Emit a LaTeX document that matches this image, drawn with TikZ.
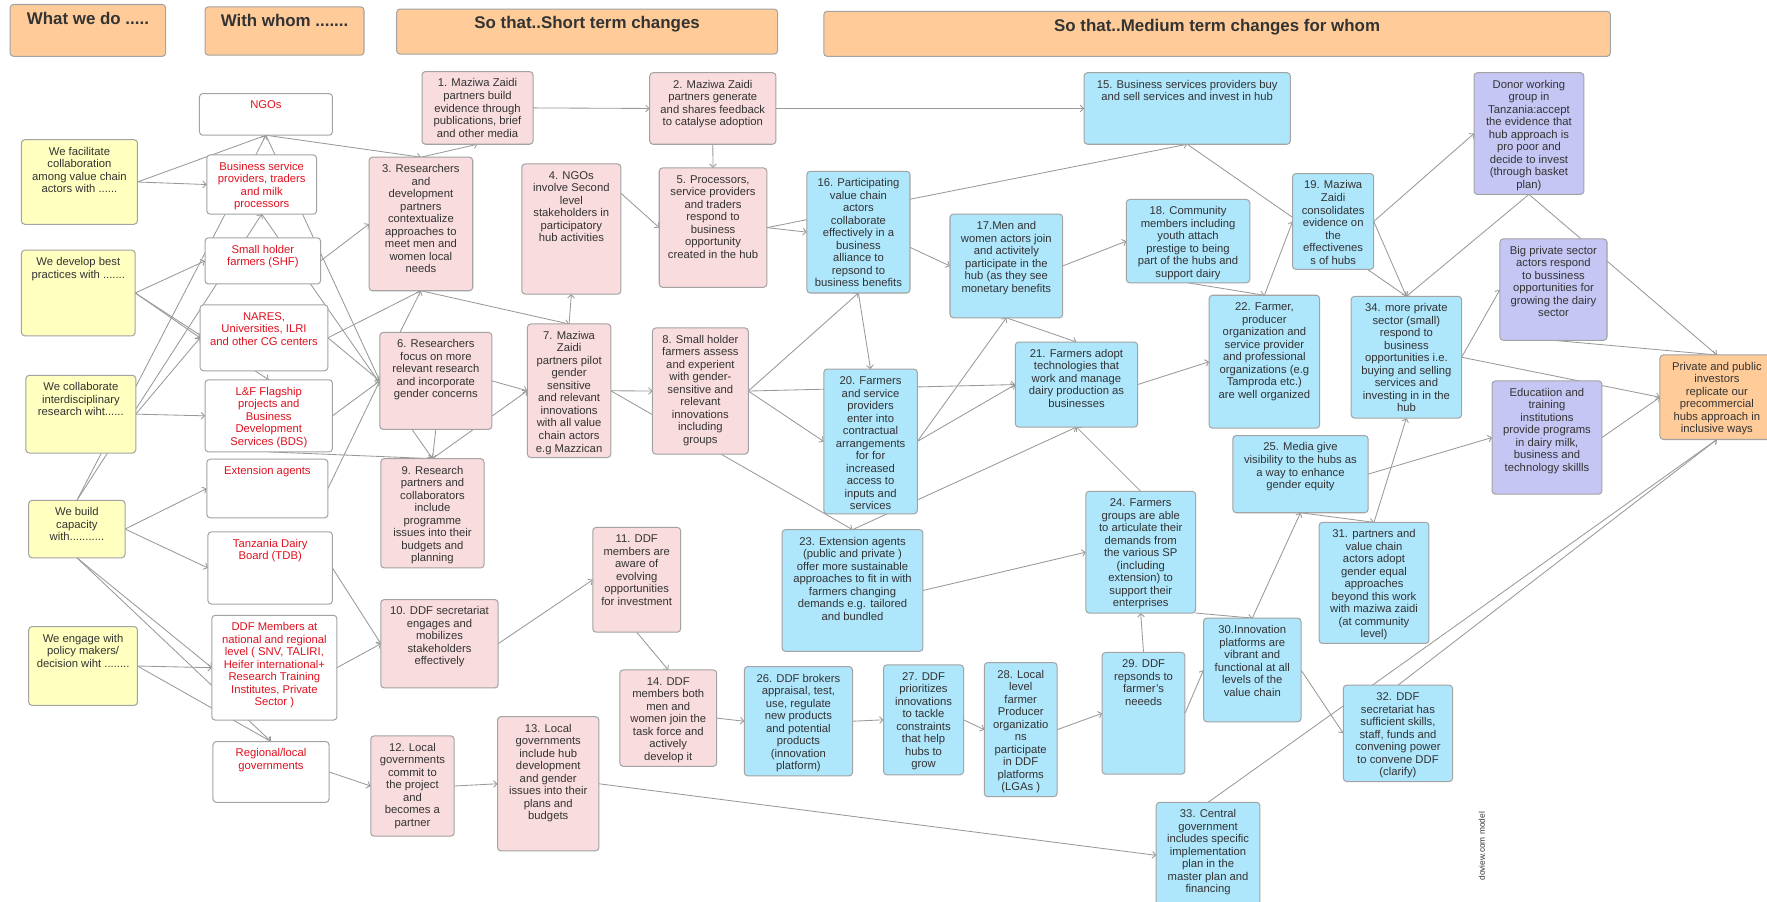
\documentclass[tikz,border=0pt]{standalone}
\usepackage{fontspec}
\setmainfont{Liberation Sans}
\usetikzlibrary{arrows.meta,calc}
\pgfdeclarelayer{bg}
\pgfsetlayers{bg,main}
\definecolor{hdr}{HTML}{FFCC99}
\definecolor{yel}{HTML}{FFFFC0}
\definecolor{pnk}{HTML}{F9DCDD}
\definecolor{blu}{HTML}{AEE6FC}
\definecolor{pur}{HTML}{C6C6F5}
\definecolor{bord}{HTML}{A3A3A3}
\definecolor{lnc}{HTML}{999999}
\definecolor{redt}{HTML}{E0101E}
\definecolor{dkt}{HTML}{333333}
\newcommand\bx[8]{%
  \node[box,#2,minimum width={(#6-#4)*1pt},minimum height={(#7-#5)*1pt}] (#1) at ({(#4+#6)/2},{(#5+#7)/2}) {};
  \node[txt,#3,anchor=north] at (#1.north) {\rule{0pt}{13.5pt}#8};
}
\begin{document}
\begin{tikzpicture}[x=1pt,y=-1pt,
  box/.style={draw=bord,line width=0.9pt,rounded corners=3pt,inner sep=0pt,outer sep=0pt},
  yb/.style={fill=yel}, pb/.style={fill=pnk}, bb/.style={fill=blu},
  ub/.style={fill=pur}, wb/.style={fill=white}, hb/.style={fill=hdr},
  txt/.style={inner sep=0pt,align=center,font=\fontsize{10}{11.1}\selectfont,text=dkt},
  rt/.style={text=redt},
  ht/.style={font=\bfseries\fontsize{15}{18}\selectfont,yshift=-4pt},
  ln/.style={draw=lnc,line width=0.75pt,-{Straight Barb[length=3pt,width=6pt]}}]
\useasboundingbox (0,0) rectangle (1568,800);
% headers
\bx{H1}{hb}{ht}{9}{4}{147}{50}{What we do .....}
\bx{H2}{hb}{ht}{182}{6}{323}{49}{With whom .......}
\bx{H3}{hb}{ht}{352}{8}{690}{48}{So that..Short term changes}
\bx{H4}{hb}{ht}{731}{10}{1429}{50}{So that..Medium term changes for whom}
% what we do
\bx{Y1}{yb}{}{19}{124}{122}{199}{We facilitate\\collaboration\\among value chain\\actors with ......}
\bx{Y2}{yb}{}{19}{222}{120}{298}{We develop best\\practices with  .......}
\bx{Y3}{yb}{}{23}{333}{120.5}{402}{We collaborate\\interdisciplinary\\research wiht......}
\bx{Y4}{yb}{}{25.5}{444}{111}{495}{We build\\capacity\\with...........}
\bx{Y5}{yb}{}{25.5}{556}{122}{626}{We engage with\\policy makers/\\decision wiht ........}
% with whom
\bx{NGO}{wb}{rt}{177}{83}{295}{120}{NGOs}
\bx{W2}{wb}{rt}{183.5}{137.5}{281}{190}{Business service\\providers, traders\\and milk\\processors}
\bx{W3}{wb}{rt}{182}{211}{284.5}{252}{Small holder\\farmers (SHF)}
\bx{W4}{wb}{rt}{177.5}{270.5}{291}{329}{NARES,\\Universities,  ILRI\\and other CG centers}
\bx{W5}{wb}{rt}{182}{337}{295}{401}{L\&F Flagship\\projects and\\Business\\Development\\Services (BDS)}
\bx{W6}{wb}{rt}{183.5}{407.5}{291}{459.5}{Extension agents}
\bx{W7}{wb}{rt}{184.5}{472}{295}{536}{Tanzania Dairy\\Board (TDB)}
\bx{W8}{wb}{rt}{188}{546}{299}{639}{DDF Members at\\national and regional\\level ( SNV, TALIRI,\\Heifer international+\\Research Training\\Institutes, Private\\Sector  )}
\bx{W9}{wb}{rt}{189}{658}{292}{712}{Regional/local\\governments}
% short term
\bx{P1}{pb}{}{374.5}{63.5}{473}{128}{1. Maziwa Zaidi\\partners build\\evidence through\\publications, brief\\and other media}
\bx{P2}{pb}{}{576.5}{64.5}{688.5}{128}{2. Maziwa Zaidi\\partners generate\\and shares feedback\\to catalyse adoption}
\bx{P3}{pb}{}{327.5}{139.5}{419.5}{258}{3. Researchers\\and\\development\\partners\\contextualize\\approaches to\\meet men and\\women local\\needs}
\bx{P4}{pb}{}{463}{145.5}{551}{261}{4. NGOs\\involve Second\\level\\stakeholders in\\participatory\\hub activities}
\bx{P5}{pb}{}{585}{149}{680.5}{255}{5. Processors,\\service providers\\and traders\\respond to\\business\\opportunity\\created in the hub}
\bx{P6}{pb}{}{337}{295}{436.5}{381}{6. Researchers\\focus on more\\relevant research\\and incorporate\\gender concerns}
\bx{P7}{pb}{}{468}{287.5}{542}{406}{7. Maziwa\\Zaidi\\partners pilot\\gender\\sensitive\\and relevant\\innovations\\with all value\\chain actors\\e.g Mazzican}
\bx{P8}{pb}{}{579}{291}{664}{403}{8. Small holder\\farmers assess\\and experient\\with gender-\\sensitive and\\relevant\\innovations\\including\\groups}
\bx{P9}{pb}{}{338}{407}{429.5}{504}{9. Research\\partners and\\collaborators\\include\\programme\\issues into their\\budgets and\\planning}
\bx{P10}{pb}{}{338}{532}{442}{610.5}{10. DDF secretariat\\engages and\\mobilizes\\stakeholders\\effectively}
\bx{P11}{pb}{}{526}{468}{604}{561}{11. DDF\\members are\\aware of\\evolving\\opportunities\\for investment}
\bx{P12}{pb}{}{329}{653}{403}{742}{12. Local\\governments\\commit to\\the project\\and\\becomes a\\partner}
\bx{P13}{pb}{}{441.5}{636}{531.5}{755}{13. Local\\governments\\include hub\\development\\and gender\\issues into their\\plans and\\budgets}
\bx{P14}{pb}{}{550}{594.5}{636}{680}{14. DDF\\members both\\men and\\women join the\\task force and\\actively\\develop it}
% medium term
\bx{B15}{bb}{}{962}{64.5}{1145}{128}{15. Business services providers buy\\and sell services and invest in hub}
\bx{B16}{bb}{}{716}{152}{807.5}{260}{16. Participating\\value chain\\actors\\collaborate\\effectively in a\\business\\alliance to\\repsond to\\business benefits}
\bx{B17}{bb}{}{843}{190}{943}{282}{17.Men and\\women actors join\\and activitely\\participate in the\\hub (as they see\\monetary benefits}
\bx{B18}{bb}{}{999.5}{177}{1109}{251}{18. Community\\members including\\youth attach\\prestige to being\\part of the hubs and\\support dairy}
\bx{B19}{bb}{}{1147}{154}{1219}{239}{19. Maziwa\\Zaidi\\consolidates\\evidence on\\the\\effectivenes\\s of hubs}
\bx{DON}{ub}{}{1308}{64.5}{1405.5}{172.5}{Donor working\\group in\\Tanzania:accept\\the evidence that\\hub approach is\\pro poor and\\decide to invest\\(through basket\\plan)}
\bx{BIG}{ub}{}{1331}{212}{1426}{302}{Big private sector\\actors respond\\to bussiness\\opportunities for\\growing the dairy\\sector}
\bx{B20}{bb}{}{731}{327.5}{814}{456}{20. Farmers\\and service\\providers\\enter into\\contractual\\arrangements\\for for\\increased\\access to\\inputs and\\services}
\bx{B21}{bb}{}{901}{303.5}{1009.5}{379}{21. Farmers adopt\\technologies that\\work and manage\\dairy production as\\businesses}
\bx{B22}{bb}{}{1073}{262}{1171}{380}{22. Farmer,\\producer\\organization and\\service provider\\and professional\\organizations (e.g\\Tamproda etc.)\\are well organized}
\bx{B23}{bb}{}{694}{470}{819}{578}{23. Extension agents\\(public and private )\\offer more sustainable\\approaches to fit in with\\farmers changing\\demands e.g. tailored\\and bundled}
\bx{B24}{bb}{}{963.5}{436}{1061}{544}{24. Farmers\\groups are able\\to articulate their\\demands from\\the various SP\\(including\\extension) to\\support their\\enterprises}
\bx{B25}{bb}{}{1094}{386.5}{1214}{455}{25. Media give\\visibility to the hubs as\\a way to enhance\\gender equity}
\bx{B26}{bb}{}{660.5}{591.5}{756.5}{688.5}{26. DDF brokers\\appraisal, test,\\use, regulate\\new products\\and potential\\products\\(innovation\\platform)}
\bx{B27}{bb}{}{784}{590}{855}{687.5}{27. DDF\\prioritizes\\innovations\\to tackle\\constraints\\that help\\hubs to\\grow}
\bx{B28}{bb}{}{873.5}{588}{938}{707}{28. Local\\level\\farmer\\Producer\\organizatio\\ns\\participate\\in DDF\\platforms\\(LGAs )}
\bx{B29}{bb}{}{978}{579}{1051.5}{687}{29. DDF\\repsonds to\\farmer's\\neeeds}
\bx{B30}{bb}{}{1068}{548.5}{1154.5}{640.5}{30.Innovation\\platforms are\\vibrant and\\functional at all\\levels of the\\value chain}
\bx{B31}{bb}{}{1170.5}{463.5}{1268}{571}{31. partners and\\value chain\\actors adopt\\gender equal\\approaches\\beyond this work\\with maziwa zaidi\\(at community\\level)}
\bx{B32}{bb}{}{1192}{608}{1289}{693.5}{32. DDF\\secretariat has\\sufficient skills,\\staff, funds and\\convening power\\to convene DDF\\(clarify)}
\bx{B33}{bb}{}{1026}{712}{1118}{806}{33. Central\\government\\includes specific\\implementation\\plan in the\\master plan and\\financing}
\bx{B34}{bb}{}{1199}{263}{1297}{371}{34. more private\\sector (small)\\respond to\\business\\opportunities i.e.\\buying and selling\\services and\\investing in in the\\hub}
\bx{EDU}{ub}{}{1324}{338}{1421.5}{438.5}{Educatiion and\\training\\institutions\\provide programs\\in dairy milk,\\business and\\technology skillls}
\bx{FIN}{hb}{}{1473}{315}{1574}{390}{Private and public\\investors\\replicate our\\precommercial\\hubs approach in\\inclusive ways}
\node[rotate=90,inner sep=0pt,font=\fontsize{7.4}{8}\selectfont,text=dkt] (wm) at (1315,751) {doview.com model};
\begin{pgfonlayer}{bg}
\fill[white] (0,0) rectangle (1568,800);
% what we do -> with whom
\draw[ln] (Y1.east) -- (NGO.south);
\draw[ln] (Y1.east) -- (W2.west);
\draw[ln] (Y2.east) -- (W3.west);
\draw[ln] (Y2.east) -- (W4.west);
\draw[ln] (Y2.east) -- (W5.north);
\draw[ln] (Y3.east) -- (W4.west);
\draw[ln] (Y3.east) -- (W5.west);
\draw[ln] (Y4.north) -- (NGO.south);
\draw[ln] (Y4.north) -- (W2.south);
\draw[ln] (Y4.east) -- (W6.west);
\draw[ln] (Y4.east) -- (W7.west);
\draw[ln] (Y4.south) -- (W8.west);
\draw[ln] (Y4.south) -- (W9.north);
\draw[ln] (Y5.east) -- (W8.west);
\draw[ln] (Y5.east) -- (W9.north);
% with whom -> short term
\draw[ln] (NGO.south) -- (P3.north);
\draw[ln] (NGO.south) -- (P6.west);
\draw[ln] (W2.south) -- (P9.north);
\draw[ln] (W3.east) -- (P3.west);
\draw[ln] (W4.east) -- (P3.south);
\draw[ln] (W4.east) -- (P6.west);
\draw[ln] (W5.east) -- (P6.west);
\draw[ln] (W6.east) -- (P6.west);
\draw[ln] (W5.south) -- (P9.north);
\draw[ln] (W7.east) -- (P10.west);
\draw[ln] (W8.east) -- (P10.west);
\draw[ln] (W9.east) -- (P12.west);
% short term
\draw[ln] (P1.east) -- (P2.west);
\draw[ln] (P2.east) -- (B15.west);
\draw[ln] (P2.south) -- (P5.north);
\draw[ln] (P3.north) -- (P1.south);
\draw[ln] (P3.south) -- (P7.north);
\draw[ln] ($(P6.north west)!0.18!(P6.north east)$) -- (P3.south);
\draw[ln] (P6.east) -- (P7.west);
\draw[ln] (P6.south) -- (P9.north);
\draw[ln] (P9.north) -- (P7.west);
\draw[ln] (P7.north) -- (P4.south);
\draw[ln] ($(P4.north east)+(0,26)$) -- (P5.west);
\draw[ln] (P5.east) -- (B16.west);
\draw[ln] (P5.east) -- (B15.south);
\draw[ln] (P7.east) -- (P8.west);
\draw[ln] (P7.east) -- (B23.north);
\draw[ln] (P8.east) -- (B16.south);
\draw[ln] (P8.east) -- (B21.west);
\draw[ln] (P8.east) -- (B20.west);
\draw[ln] (P10.east) -- (P11.west);
\draw[ln] (P11.south) -- (P14.north);
\draw[ln] (P12.east) -- (P13.west);
\draw[ln] (P13.east) -- (B33.west);
\draw[ln] (P14.east) -- (B26.west);
% medium term
\draw[ln] (B26.east) -- (B27.west);
\draw[ln] (B27.east) -- (B28.west);
\draw[ln] (B28.east) -- (B29.west);
\draw[ln] (B16.south) -- (B20.north);
\draw[ln] ($(B16.east)+(0,13.5)$) -- (B17.west);
\draw[ln] (B17.east) -- (B18.west);
\draw[ln] (B18.south) -- (B22.north);
\draw[ln] (B22.north) -- (B19.west);
\draw[ln] (B19.east) -- (DON.west);
\draw[ln] (B19.east) -- (B34.north);
\draw[ln] (B15.south) -- (B34.north);
\draw[ln] (DON.south) -- (B34.north);
\draw[ln] (DON.south) -- (FIN.north);
\draw[ln] (BIG.south) -- (FIN.north);
\draw[ln] (B34.east) -- (BIG.west);
\draw[ln] (B34.east) -- (FIN.west);
\draw[ln] (EDU.east) -- (FIN.west);
\draw[ln] (B25.east) -- (EDU.west);
\draw[ln] (B20.east) -- (B21.west);
\draw[ln] (B20.east) -- (B17.south);
\draw[ln] (B17.south) -- (B21.north);
\draw[ln] (B23.north) -- (B21.south);
\draw[ln] (B24.north) -- (B21.south);
\draw[ln] (B23.east) -- (B24.west);
\draw[ln] (B21.east) -- (B22.west);
\draw[ln] (B29.north) -- (B24.south);
\draw[ln] (B29.east) -- (B30.west);
\draw[ln] (B24.south east) -- (B30.north);
\draw[ln] (B30.north) -- (B25.south);
\draw[ln] (B25.south) -- (B31.north);
\draw[ln] (B31.north) -- (B34.south);
\draw[ln] (B30.east) -- (B32.west);
\draw[ln] (B33.north) -- (FIN.south);
\draw[ln] (B32.north) -- (FIN.south);
\end{pgfonlayer}
\end{tikzpicture}
\end{document}
